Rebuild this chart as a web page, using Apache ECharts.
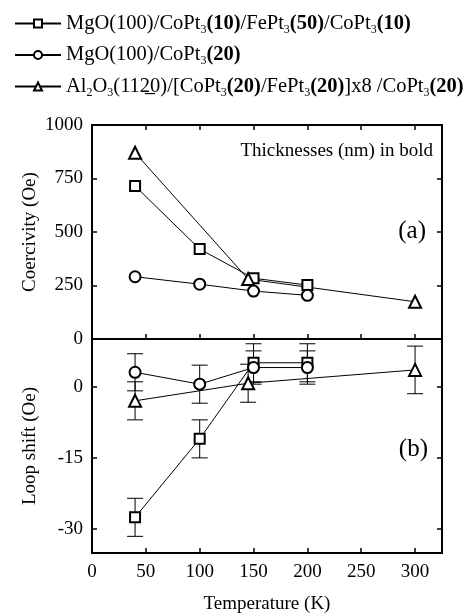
<!DOCTYPE html>
<html lang="en">
<head>
    <meta charset="UTF-8">
    <title>Coercivity and loop shift</title>
    <script src="https://cdn.jsdelivr.net/npm/echarts@6/dist/echarts.min.js"></script>
    <style>
        html, body { margin: 0; padding: 0; background: #fff; }
    </style>
</head>
<body>
    <div id="main" style="width: 468px;height:615px;"></div>
    <script type="text/javascript">
        // temperatures (K)
        var tempSq = [40, 100, 150, 200];
        var tempCi = [40, 100, 150, 200];
        var tempTr = [40, 145, 300];

        // coercivity (Oe), panel (a)
        var coerSq = [715, 420, 284, 252];
        var coerCi = [291, 256, 224, 204];
        var coerTr = [870, 280, 174];

        // loop shift (Oe), panel (b), with error bars
        var shiftSq = [-27.5, -11, 5, 5];
        var errSq = [4, 4, 4, 4];
        var shiftCi = [3, 0.5, 4, 4];
        var errCi = [3.9, 4, 3.5, 3.5];
        var shiftTr = [-3, 0.7, 3.5];
        var errTr = [4, 4, 5];

        var names = ['sq', 'ci', 'tr'];
        // legend text pieces: [style, text]
        var legendParts = {
            sq: [['n', 'MgO(100)/CoPt'], ['s', '3'], ['b', '(10)'], ['n', '/FePt'], ['s', '3'], ['b', '(50)'], ['n', '/CoPt'], ['s', '3'], ['b', '(10)']],
            ci: [['n', 'MgO(100)/CoPt'], ['s', '3'], ['b', '(20)']],
            tr: [['n', 'Al'], ['s', '2'], ['n', 'O'], ['s', '3'], ['n', '(112\u03320)/[CoPt'], ['s', '3'], ['b', '(20)'], ['n', '/FePt'], ['s', '3'], ['b', '(20)'], ['n', ']x8 /CoPt'], ['s', '3'], ['b', '(20)']]
        };
        var yTicksB = [-30, -15, 0];

        var font = 'Liberation Serif';

        function zip(xs, ys) {
            var out = [];
            for (var i = 0; i < xs.length; i++) out.push([xs[i], ys[i]]);
            return out;
        }
        function zip3(xs, ys, es) {
            var out = [];
            for (var i = 0; i < xs.length; i++) out.push([xs[i], ys[i], es[i]]);
            return out;
        }

        function errorBars(params, api) {
            var x = api.value(0), y = api.value(1), e = api.value(2);
            var top = api.coord([x, y + e]);
            var bot = api.coord([x, y - e]);
            var w = 8;
            var st = { stroke: '#000', lineWidth: 1 };
            return {
                type: 'group',
                children: [
                    { type: 'line', shape: { x1: top[0], y1: top[1], x2: bot[0], y2: bot[1] }, style: st },
                    { type: 'line', shape: { x1: top[0] - w, y1: top[1], x2: top[0] + w, y2: top[1] }, style: st },
                    { type: 'line', shape: { x1: bot[0] - w, y1: bot[1], x2: bot[0] + w, y2: bot[1] }, style: st }
                ]
            };
        }

        var chartDom = document.getElementById('main');
        var myChart = echarts.init(chartDom);
        var option;

        var axisLine = { show: true, onZero: false, lineStyle: { color: '#000', width: 2 } };
        var tickIn = { show: true, inside: true, length: 5, lineStyle: { color: '#000', width: 1.5 } };
        var labelStyle = { color: '#000', fontFamily: font, fontSize: 19 };
        var plain = function (v) { return String(v); };

        function lineSeries(name, sym, size, x, y, xi, yi) {
            return {
                name: name,
                type: 'line',
                xAxisIndex: xi,
                yAxisIndex: yi,
                data: zip(x, y),
                symbol: sym,
                symbolSize: size,
                showAllSymbol: true,
                lineStyle: { color: '#000', width: 1 },
                itemStyle: { color: '#000', borderWidth: 1.2 },
                z: 3
            };
        }

        // rotated axis title
        function yTitle(text, cy) {
            return {
                type: 'text', x: 30, y: cy, rotation: Math.PI / 2,
                style: { text: text, fontFamily: font, fontSize: 19, fill: '#000', align: 'center', verticalAlign: 'middle' }
            };
        }

        option = {
            animation: false,
            backgroundColor: '#fff',
            legend: {
                orient: 'vertical',
                left: 14,
                top: 13,
                padding: 0,
                itemWidth: 46,
                itemHeight: 10,
                itemGap: 9,
                data: names,
                formatter: function (name) {
                    return legendParts[name].map(function (p) {
                        return '{' + p[0] + '|' + p[1] + '}';
                    }).join('');
                },
                textStyle: {
                    color: '#000',
                    rich: {
                        n: { fontFamily: font, fontSize: 20.5, lineHeight: 24, color: '#000' },
                        b: { fontFamily: font, fontSize: 20.5, fontWeight: 'bold', lineHeight: 24, color: '#000' },
                        s: { fontFamily: font, fontSize: 12, lineHeight: 11, verticalAlign: 'bottom', color: '#000' }
                    }
                }
            },
            grid: [
                { left: 92, right: 26, top: 125, height: 214 },
                { left: 92, right: 26, top: 339, height: 215 }
            ],
            xAxis: [
                { gridIndex: 0, type: 'value', min: 0, max: 325, interval: 50, position: 'bottom',
                  axisLine: axisLine, axisTick: tickIn, axisLabel: { show: false }, splitLine: { show: false } },
                { gridIndex: 0, type: 'value', min: 0, max: 325, interval: 50, position: 'top',
                  axisLine: axisLine, axisTick: tickIn, axisLabel: { show: false }, splitLine: { show: false } },
                { gridIndex: 1, type: 'value', min: 0, max: 325, interval: 50, position: 'bottom',
                  axisLine: axisLine, axisTick: tickIn, splitLine: { show: false },
                  axisLabel: Object.assign({ margin: 10, showMaxLabel: false, formatter: plain }, labelStyle),
                  name: 'Temperature (K)', nameLocation: 'middle', nameGap: 42,
                  nameTextStyle: labelStyle },
                { gridIndex: 1, type: 'value', min: 0, max: 325, position: 'top',
                  axisLine: axisLine, axisTick: { show: false }, axisLabel: { show: false }, splitLine: { show: false } }
            ],
            yAxis: [
                { gridIndex: 0, type: 'value', min: 0, max: 1000, interval: 250, position: 'left',
                  axisLine: axisLine, axisTick: tickIn, splitLine: { show: false },
                  axisLabel: Object.assign({ margin: 9, formatter: plain }, labelStyle) },
                { gridIndex: 0, type: 'value', min: 0, max: 1000, interval: 250, position: 'right',
                  axisLine: axisLine, axisTick: tickIn, axisLabel: { show: false }, splitLine: { show: false } },
                { gridIndex: 1, type: 'value', min: -35, max: 10, position: 'left',
                  axisLine: axisLine, splitLine: { show: false },
                  axisTick: Object.assign({ customValues: yTicksB }, tickIn),
                  axisLabel: Object.assign({ margin: 9, customValues: yTicksB, formatter: plain }, labelStyle) },
                { gridIndex: 1, type: 'value', min: -35, max: 10, position: 'right',
                  axisLine: axisLine, splitLine: { show: false },
                  axisTick: Object.assign({ customValues: yTicksB }, tickIn),
                  axisLabel: { show: false } }
            ],
            graphic: [
                yTitle('Coercivity (Oe)', 232),
                yTitle('Loop shift (Oe)', 446),
                { type: 'text', right: 35, top: 142,
                  style: { text: 'Thicknesses (nm) in bold', fontFamily: font, fontSize: 19, fill: '#000' } },
                { type: 'text', right: 42, top: 219,
                  style: { text: '(a)', fontFamily: font, fontSize: 25, fill: '#000' } },
                { type: 'text', right: 40, top: 437,
                  style: { text: '(b)', fontFamily: font, fontSize: 25, fill: '#000' } }
            ],
            series: [
                lineSeries('sq', 'emptyRect', 10, tempSq, coerSq, 0, 0),
                lineSeries('ci', 'emptyCircle', 11, tempCi, coerCi, 0, 0),
                lineSeries('tr', 'emptyTriangle', 12, tempTr, coerTr, 0, 0),
                lineSeries('sq', 'emptyRect', 10, tempSq, shiftSq, 2, 2),
                lineSeries('ci', 'emptyCircle', 11, tempCi, shiftCi, 2, 2),
                lineSeries('tr', 'emptyTriangle', 12, tempTr, shiftTr, 2, 2),
                { type: 'custom', xAxisIndex: 2, yAxisIndex: 2, renderItem: errorBars, data: zip3(tempSq, shiftSq, errSq), z: 2 },
                { type: 'custom', xAxisIndex: 2, yAxisIndex: 2, renderItem: errorBars, data: zip3(tempCi, shiftCi, errCi), z: 2 },
                { type: 'custom', xAxisIndex: 2, yAxisIndex: 2, renderItem: errorBars, data: zip3(tempTr, shiftTr, errTr), z: 2 }
            ]
        };

        option && myChart.setOption(option);
    </script>
</body>
</html>
